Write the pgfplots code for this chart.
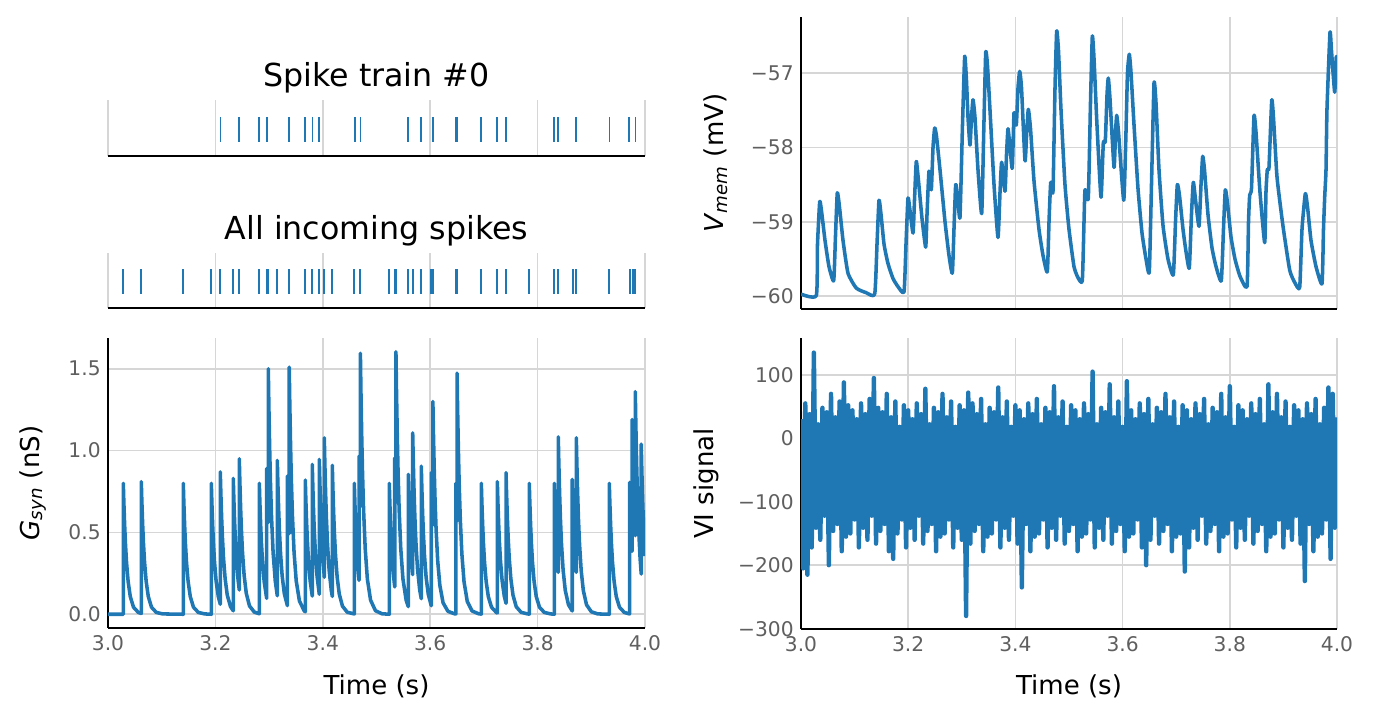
\documentclass[border=0pt]{standalone}
\usepackage{fontspec}
\setmainfont{DejaVu Sans}
\usepackage{pgfplots}
\pgfplotsset{compat=1.18}
\definecolor{mplblue}{RGB}{31,119,180}
\definecolor{gridgray}{RGB}{214,214,214}
\definecolor{tickgray}{RGB}{95,95,95}
\pgfplotsset{
  base/.style={
    scale only axis, xmin=3, xmax=4,
    major tick length=0pt, tick style={draw=none},
    grid style={gridgray, line width=0.8pt},
    xtick={3,3.2,3.4,3.6,3.8,4},
    tick label style={font=\fontsize{9.7}{11}\selectfont, text=tickgray},
    label style={font=\fontsize{12.5}{14}\selectfont},
    title style={font=\fontsize{15.2}{17}\selectfont},
  },
  raster/.style={base, axis x line=bottom, axis y line=none, xmajorgrids,
    axis line style={-, line width=1pt, black},
    ymin=0, ymax=1, xticklabels={}, width=257.76pt,
    title style={at={(axis description cs:0.5,1)}, anchor=center, yshift=4.8pt}},
  trace/.style={base, axis lines*=left, xmajorgrids, ymajorgrids,
    axis line style={-, line width=1pt, black}},
  spk/.style={only marks, mark=|, mark size=6pt, mplblue, mark options={line width=0.8pt}},
  crv/.style={mplblue, line width=1.7pt, line join=round},
}
\begin{document}
\begin{tikzpicture}
\useasboundingbox (0,0) rectangle (659.52pt,345.12pt);
% Spike train #0
\begin{axis}[raster, at={(51.84pt,270.24pt)}, anchor=south west, height=26.88pt, title={Spike train \#0}]
\addplot[spk] coordinates {(3.2098,0.475)(3.2443,0.475)(3.2816,0.475)(3.2965,0.475)(3.3374,0.475)(3.3672,0.475)(3.3810,0.475)(3.3933,0.475)(3.4594,0.475)(3.4705,0.475)(3.5592,0.475)(3.5829,0.475)(3.6058,0.475)(3.6480,0.475)(3.6498,0.475)(3.6952,0.475)(3.7250,0.475)(3.7412,0.475)(3.8311,0.475)(3.8386,0.475)(3.8721,0.475)(3.9336,0.475)(3.9708,0.475)(3.9820,0.475)};
\end{axis}
% All incoming spikes
\begin{axis}[raster, at={(51.84pt,197.28pt)}, anchor=south west, height=26.4pt, title={All incoming spikes}]
\addplot[spk] coordinates {(3.0285,0.475)(3.0620,0.475)(3.1402,0.475)(3.1924,0.475)(3.2091,0.475)(3.2333,0.475)(3.2445,0.475)(3.2818,0.475)(3.2965,0.475)(3.2983,0.475)(3.3153,0.475)(3.3362,0.475)(3.3380,0.475)(3.3674,0.475)(3.3804,0.475)(3.3935,0.475)(3.4028,0.475)(3.4177,0.475)(3.4587,0.475)(3.4690,0.475)(3.4703,0.475)(3.5238,0.475)(3.5348,0.475)(3.5366,0.475)(3.5592,0.475)(3.5674,0.475)(3.5834,0.475)(3.6020,0.475)(3.6047,0.475)(3.6484,0.475)(3.6502,0.475)(3.6952,0.475)(3.7250,0.475)(3.7412,0.475)(3.7845,0.475)(3.8311,0.475)(3.8385,0.475)(3.8654,0.475)(3.8721,0.475)(3.9335,0.475)(3.9715,0.475)(3.9771,0.475)(3.9819,0.475)};
\end{axis}
% G_syn
\begin{axis}[trace, at={(51.84pt,43.68pt)}, anchor=south west, width=257.76pt, height=139.2pt,
  ymin=-0.084, ymax=1.688, ytick={0,0.5,1,1.5}, yticklabels={0.0,0.5,1.0,1.5},
  xticklabels={3.0,3.2,3.4,3.6,3.8,4.0},
  xlabel={Time (s)}, ylabel={\textit{G}\textsubscript{\textit{syn}} (nS)},
  xlabel style={at={(axis description cs:0.5,-0.2)}, anchor=center},
  ylabel style={at={(axis description cs:-0.1397,0.5)}, anchor=center}]
\addplot[crv] coordinates {
(3.0000,0)(3.0285,0)(3.0285,0.80)(3.0295,0.686)(3.0310,0.545)(3.0325,0.432)(3.0345,0.318)(3.0375,0.200)(3.0415,0.108)(3.0475,0.043)(3.0565,0.011)(3.0620,0.005)
(3.0620,0.81)(3.0630,0.694)(3.0645,0.552)(3.0660,0.437)(3.0680,0.322)(3.0710,0.203)(3.0750,0.109)(3.0810,0.043)(3.0900,0.011)(3.1020,0.002)(3.1402,0)
(3.1402,0.80)(3.1412,0.686)(3.1427,0.545)(3.1442,0.432)(3.1462,0.318)(3.1492,0.200)(3.1532,0.108)(3.1592,0.043)(3.1682,0.011)(3.1802,0.002)(3.1924,0)
(3.1924,0.80)(3.1934,0.686)(3.1949,0.545)(3.1964,0.432)(3.1984,0.318)(3.2014,0.200)(3.2054,0.108)(3.2091,0.061)
(3.2091,0.87)(3.2101,0.746)(3.2116,0.592)(3.2131,0.470)(3.2151,0.345)(3.2181,0.218)(3.2221,0.117)(3.2281,0.047)(3.2333,0.021)
(3.2333,0.83)(3.2343,0.711)(3.2358,0.565)(3.2373,0.448)(3.2393,0.330)(3.2423,0.208)(3.2445,0.148)
(3.2445,0.95)(3.2455,0.814)(3.2470,0.647)(3.2485,0.513)(3.2505,0.377)(3.2535,0.238)(3.2575,0.128)(3.2635,0.051)(3.2725,0.013)(3.2818,0.003)
(3.2818,0.80)(3.2828,0.686)(3.2843,0.545)(3.2858,0.432)(3.2878,0.318)(3.2908,0.200)(3.2955,0.097)
(3.2955,0.89)(3.2965,0.763)(3.2985,0.561)
(3.2985,1.50)(3.2995,1.286)(3.3010,1.022)(3.3025,0.810)(3.3045,0.596)(3.3075,0.375)(3.3115,0.203)(3.3153,0.113)
(3.3153,0.94)(3.3163,0.806)(3.3178,0.640)(3.3193,0.508)(3.3213,0.373)(3.3243,0.235)(3.3283,0.127)(3.3340,0.053)
(3.3340,0.845)(3.3350,0.724)(3.3375,0.493)
(3.3375,1.51)(3.3385,1.294)(3.3400,1.028)(3.3415,0.815)(3.3435,0.599)(3.3465,0.378)(3.3505,0.204)(3.3565,0.081)(3.3655,0.020)(3.3674,0.015)
(3.3674,0.82)(3.3684,0.703)(3.3699,0.558)(3.3714,0.443)(3.3734,0.326)(3.3764,0.205)(3.3804,0.111)
(3.3804,0.915)(3.3814,0.784)(3.3829,0.623)(3.3844,0.494)(3.3864,0.363)(3.3894,0.229)(3.3935,0.122)
(3.3935,0.946)(3.3945,0.811)(3.3960,0.644)(3.3975,0.511)(3.3995,0.376)(3.4028,0.226)
(3.4028,1.078)(3.4038,0.924)(3.4053,0.734)(3.4068,0.582)(3.4088,0.428)(3.4118,0.270)(3.4158,0.146)(3.4177,0.109)
(3.4177,0.91)(3.4187,0.780)(3.4202,0.620)(3.4217,0.491)(3.4237,0.361)(3.4267,0.228)(3.4307,0.123)(3.4367,0.049)(3.4457,0.012)(3.4587,0.002)
(3.4587,0.80)(3.4597,0.686)(3.4612,0.545)(3.4627,0.432)(3.4647,0.318)(3.4675,0.207)
(3.4675,0.966)(3.4685,0.828)(3.4700,0.658)
(3.4700,1.594)(3.4710,1.366)(3.4725,1.086)(3.4740,0.861)(3.4760,0.633)(3.4790,0.399)(3.4830,0.215)(3.4890,0.086)(3.4980,0.022)(3.5100,0.003)(3.5238,0)
(3.5238,0.80)(3.5248,0.686)(3.5263,0.545)(3.5278,0.432)(3.5298,0.318)(3.5328,0.200)(3.5340,0.167)
(3.5340,0.956)(3.5350,0.819)(3.5362,0.682)
(3.5362,1.604)(3.5372,1.375)(3.5387,1.092)(3.5402,0.866)(3.5422,0.637)(3.5452,0.401)(3.5492,0.217)(3.5552,0.086)(3.5592,0.047)
(3.5592,0.855)(3.5602,0.733)(3.5617,0.582)(3.5632,0.462)(3.5652,0.339)(3.5674,0.242)
(3.5674,1.108)(3.5684,0.950)(3.5699,0.755)(3.5714,0.598)(3.5734,0.440)(3.5764,0.277)(3.5804,0.150)(3.5834,0.095)
(3.5834,0.905)(3.5844,0.776)(3.5859,0.616)(3.5874,0.489)(3.5894,0.359)(3.5924,0.226)(3.5964,0.122)(3.6020,0.052)
(3.6020,0.865)(3.6030,0.741)(3.6050,0.545)
(3.6050,1.30)(3.6060,1.114)(3.6075,0.885)(3.6090,0.702)(3.6110,0.516)(3.6140,0.325)(3.6180,0.176)(3.6240,0.070)(3.6330,0.018)(3.6450,0.003)(3.6478,0.002)
(3.6478,0.80)(3.6488,0.686)(3.6500,0.570)
(3.6500,1.473)(3.6510,1.262)(3.6525,1.003)(3.6540,0.795)(3.6560,0.585)(3.6590,0.368)(3.6630,0.199)(3.6690,0.079)(3.6780,0.020)(3.6900,0.003)(3.6952,0.001)
(3.6952,0.80)(3.6962,0.686)(3.6977,0.545)(3.6992,0.432)(3.7012,0.318)(3.7042,0.200)(3.7082,0.108)(3.7142,0.043)(3.7232,0.011)(3.7250,0.008)
(3.7250,0.81)(3.7260,0.694)(3.7275,0.552)(3.7290,0.437)(3.7310,0.322)(3.7340,0.203)(3.7380,0.109)(3.7412,0.067)
(3.7412,0.865)(3.7422,0.741)(3.7437,0.589)(3.7452,0.467)(3.7472,0.343)(3.7502,0.216)(3.7542,0.117)(3.7602,0.046)(3.7692,0.012)(3.7812,0.002)(3.7845,0.001)
(3.7845,0.80)(3.7855,0.686)(3.7870,0.545)(3.7885,0.432)(3.7905,0.318)(3.7935,0.200)(3.7975,0.108)(3.8035,0.043)(3.8125,0.011)(3.8245,0.002)(3.8311,0)
(3.8311,0.80)(3.8321,0.686)(3.8336,0.545)(3.8351,0.432)(3.8371,0.318)(3.8385,0.256)
(3.8385,1.084)(3.8395,0.929)(3.8410,0.738)(3.8425,0.585)(3.8445,0.430)(3.8475,0.271)(3.8515,0.146)(3.8575,0.058)(3.8645,0.020)
(3.8645,0.824)(3.8655,0.706)(3.8670,0.561)(3.8685,0.445)(3.8705,0.327)(3.8721,0.256)
(3.8721,1.078)(3.8731,0.924)(3.8746,0.734)(3.8761,0.582)(3.8781,0.428)(3.8811,0.270)(3.8851,0.146)(3.8911,0.058)(3.9001,0.015)(3.9121,0.002)(3.9335,0)
(3.9335,0.80)(3.9345,0.686)(3.9360,0.545)(3.9375,0.432)(3.9395,0.318)(3.9425,0.200)(3.9465,0.108)(3.9525,0.043)(3.9615,0.011)(3.9712,0.002)
(3.9712,0.805)(3.9722,0.690)(3.9737,0.548)(3.9752,0.435)(3.9760,0.385)
(3.9760,1.19)(3.9770,1.020)(3.9785,0.810)(3.9800,0.643)(3.9819,0.480)
(3.9819,1.36)(3.9829,1.166)(3.9844,0.926)(3.9859,0.734)(3.9879,0.540)(3.9909,0.340)(3.9930,0.246)
(3.9930,1.04)(3.9940,0.891)(3.9955,0.708)(3.9970,0.562)(3.9990,0.413)(4.0000,0.355)
};
\end{axis}
% V_mem
\begin{axis}[trace, at={(384.48pt,196.8pt)}, anchor=south west, width=257.28pt, height=140.16pt,
  ymin=-60.17, ymax=-56.25, ytick={-60,-59,-58,-57}, yticklabels={−60,−59,−58,−57},
  xticklabels={},
  ylabel={\textit{V}\textsubscript{\textit{mem}} (mV)},
  ylabel style={at={(axis description cs:-0.1586,0.5)}, anchor=center}]
\addplot[crv, smooth, tension=0.3] coordinates {
(3.0000,-59.97)(3.0285,-59.99)(3.0308,-59.3)(3.0349,-58.73)(3.0382,-58.85)(3.0448,-59.25)(3.0522,-59.6)(3.0610,-59.79)
(3.0643,-59.2)(3.0677,-58.61)(3.0718,-58.8)(3.0784,-59.25)(3.0877,-59.69)(3.1032,-59.89)(3.1213,-59.95)(3.1375,-59.97)
(3.1418,-59.3)(3.1455,-58.71)(3.1493,-58.9)(3.1549,-59.3)(3.1623,-59.56)(3.1716,-59.76)(3.1810,-59.87)(3.1922,-59.94)
(3.1959,-59.3)(3.1996,-58.68)(3.2034,-58.85)(3.2090,-59.15)(3.2118,-58.7)(3.2151,-58.19)(3.2192,-58.45)(3.2257,-58.95)(3.2326,-59.34)
(3.2351,-58.9)(3.2388,-58.32)(3.2431,-58.57)(3.2463,-58.0)(3.2494,-57.74)(3.2528,-57.85)(3.2593,-58.3)(3.2687,-59.0)(3.2761,-59.45)(3.2823,-59.69)
(3.2854,-59.1)(3.2886,-58.50)(3.2920,-58.65)(3.2966,-58.94)(3.3013,-57.7)(3.3054,-56.78)(3.3087,-57.1)(3.3116,-57.6)(3.3153,-57.97)
(3.3181,-57.6)(3.3209,-57.36)(3.3246,-57.6)(3.3302,-58.3)(3.3371,-58.89)(3.3409,-57.8)(3.3446,-56.73)(3.3479,-56.9)(3.3526,-57.5)(3.3601,-58.5)(3.3675,-59.21)
(3.3713,-58.6)(3.3744,-58.20)(3.3806,-58.59)(3.3834,-58.1)(3.3862,-57.75)(3.3899,-58.0)(3.3942,-58.28)(3.3974,-57.54)(3.4017,-57.70)(3.4049,-57.2)(3.4080,-56.98)
(3.4114,-57.2)(3.4179,-58.18)(3.4211,-57.8)(3.4241,-57.49)(3.4282,-57.75)(3.4347,-58.45)(3.4440,-59.1)(3.4515,-59.45)(3.4595,-59.67)
(3.4627,-59.0)(3.4659,-58.47)(3.4701,-58.59)(3.4739,-57.2)(3.4770,-56.44)(3.4804,-56.7)(3.4851,-57.5)(3.4925,-58.5)(3.5000,-59.1)(3.5093,-59.60)(3.5168,-59.75)(3.5248,-59.79)
(3.5280,-59.0)(3.5299,-58.57)(3.5360,-58.68)(3.5401,-57.4)(3.5435,-56.51)(3.5466,-56.8)(3.5522,-57.7)(3.5597,-58.67)(3.5640,-57.94)(3.5677,-57.92)
(3.5709,-57.3)(3.5733,-57.07)(3.5765,-57.35)(3.5840,-58.27)(3.5868,-57.8)(3.5890,-57.57)(3.5924,-57.8)(3.6021,-58.71)(3.6063,-57.8)(3.6091,-57.0)(3.6125,-56.75)
(3.6157,-57.0)(3.6213,-57.7)(3.6287,-58.55)(3.6362,-59.15)(3.6437,-59.5)(3.6498,-59.67)(3.6539,-58.5)(3.6586,-57.14)(3.6623,-57.4)(3.6679,-58.3)(3.6754,-59.05)(3.6847,-59.5)(3.6946,-59.71)
(3.6987,-59.0)(3.7021,-58.50)(3.7062,-58.65)(3.7127,-59.1)(3.7183,-59.4)(3.7244,-59.62)(3.7285,-58.9)(3.7319,-58.47)(3.7360,-58.7)(3.7425,-59.06)(3.7463,-58.5)(3.7494,-58.12)
(3.7528,-58.3)(3.7593,-58.9)(3.7668,-59.35)(3.7743,-59.6)(3.7841,-59.79)(3.7882,-59.1)(3.7916,-58.57)(3.7957,-58.75)(3.8022,-59.2)(3.8097,-59.5)(3.8190,-59.73)(3.8321,-59.87)
(3.8349,-59.0)(3.8371,-58.64)(3.8405,-58.55)(3.8451,-57.58)(3.8489,-57.8)(3.8563,-58.6)(3.8651,-59.28)(3.8675,-58.6)(3.8700,-58.30)(3.8731,-58.27)(3.8782,-57.37)
(3.8815,-57.6)(3.8881,-58.4)(3.8993,-59.06)(3.9118,-59.65)(3.9216,-59.82)(3.9304,-59.88)(3.9347,-59.1)(3.9409,-58.62)(3.9450,-58.8)(3.9515,-59.25)(3.9608,-59.6)(3.9720,-59.83)
(3.9748,-59.1)(3.9771,-58.66)(3.9795,-58.3)(3.9813,-57.49)(3.9869,-56.46)(3.9897,-56.7)(3.9957,-57.26)(3.9987,-56.78)(4.0000,-56.93)
};
\end{axis}
% VI signal
\begin{axis}[trace, at={(384.48pt,43.2pt)}, anchor=south west, width=257.28pt, height=139.68pt,
  ymin=-300.5, ymax=158, ytick={-300,-200,-100,0,100}, yticklabels={−300,−200,−100,0,100},
  xticklabels={3.0,3.2,3.4,3.6,3.8,4.0},
  xlabel={Time (s)}, ylabel={VI signal},
  xlabel style={at={(axis description cs:0.5,-0.196)}, anchor=center},
  ylabel style={at={(axis description cs:-0.177,0.5)}, anchor=center}]
\addplot[mplblue, line width=2.1pt, line join=round] coordinates {
(3.000,30)(3.004,-205)(3.008,55)(3.012,-215)(3.016,38)(3.020,-172)(3.024,135)(3.028,-141)(3.032,22)(3.036,-160)
(3.040,48)(3.044,-122)(3.048,41)(3.052,-200)(3.056,70)(3.060,-146)(3.064,33)(3.068,-135)(3.072,58)(3.076,-178)
(3.080,88)(3.084,-155)(3.088,52)(3.092,-150)(3.096,44)(3.100,-128)(3.104,30)(3.108,-172)(3.112,55)(3.116,-141)
(3.120,38)(3.124,-160)(3.128,62)(3.132,-122)(3.136,95)(3.140,-166)(3.144,48)(3.148,-146)(3.152,41)(3.156,-135)
(3.160,70)(3.164,-178)(3.168,33)(3.172,-190)(3.176,58)(3.180,-150)(3.184,18)(3.188,-128)(3.192,52)(3.196,-172)
(3.200,44)(3.204,-141)(3.208,30)(3.212,-160)(3.216,55)(3.220,-122)(3.224,38)(3.228,-166)(3.232,78)(3.236,-146)
(3.240,22)(3.244,-135)(3.248,48)(3.252,-178)(3.256,41)(3.260,-155)(3.264,70)(3.268,-150)(3.272,33)(3.276,-128)
(3.280,58)(3.284,-172)(3.288,18)(3.292,-141)(3.296,52)(3.300,-160)(3.304,44)(3.308,-280)(3.312,72)(3.316,-166)
(3.320,55)(3.324,-146)(3.328,38)(3.332,-135)(3.336,62)(3.340,-178)(3.344,22)(3.348,-155)(3.352,48)(3.356,-150)
(3.360,41)(3.364,-128)(3.368,80)(3.372,-172)(3.376,33)(3.380,-141)(3.384,58)(3.388,-160)(3.392,18)(3.396,-122)
(3.400,52)(3.404,-166)(3.408,44)(3.412,-235)(3.416,30)(3.420,-135)(3.424,55)(3.428,-178)(3.432,38)(3.436,-155)
(3.440,62)(3.444,-150)(3.448,22)(3.452,-128)(3.456,48)(3.460,-172)(3.464,41)(3.468,-141)(3.472,82)(3.476,-160)
(3.480,33)(3.484,-122)(3.488,58)(3.492,-166)(3.496,18)(3.500,-146)(3.504,52)(3.508,-135)(3.512,44)(3.516,-178)
(3.520,30)(3.524,-155)(3.528,55)(3.532,-150)(3.536,38)(3.540,-128)(3.544,105)(3.548,-172)(3.552,22)(3.556,-141)
(3.560,48)(3.564,-160)(3.568,41)(3.572,-122)(3.576,85)(3.580,-166)(3.584,33)(3.588,-146)(3.592,58)(3.596,-135)
(3.600,18)(3.604,-178)(3.608,90)(3.612,-155)(3.616,44)(3.620,-150)(3.624,30)(3.628,-128)(3.632,55)(3.636,-172)
(3.640,38)(3.644,-200)(3.648,62)(3.652,-160)(3.656,22)(3.660,-122)(3.664,48)(3.668,-166)(3.672,41)(3.676,-146)
(3.680,70)(3.684,-135)(3.688,33)(3.692,-178)(3.696,58)(3.700,-155)(3.704,18)(3.708,-150)(3.712,52)(3.716,-210)
(3.720,44)(3.724,-172)(3.728,30)(3.732,-141)(3.736,55)(3.740,-160)(3.744,38)(3.748,-122)(3.752,62)(3.756,-166)
(3.760,22)(3.764,-146)(3.768,48)(3.772,-135)(3.776,41)(3.780,-178)(3.784,70)(3.788,-155)(3.792,33)(3.796,-150)
(3.800,82)(3.804,-128)(3.808,18)(3.812,-172)(3.816,52)(3.820,-141)(3.824,44)(3.828,-160)(3.832,30)(3.836,-122)
(3.840,55)(3.844,-166)(3.848,38)(3.852,-146)(3.856,62)(3.860,-135)(3.864,22)(3.868,-178)(3.872,85)(3.876,-155)
(3.880,41)(3.884,-150)(3.888,70)(3.892,-128)(3.896,33)(3.900,-172)(3.904,58)(3.908,-141)(3.912,18)(3.916,-160)
(3.920,52)(3.924,-122)(3.928,44)(3.932,-166)(3.936,30)(3.940,-225)(3.944,55)(3.948,-135)(3.952,38)(3.956,-178)
(3.960,62)(3.964,-155)(3.968,22)(3.972,-150)(3.976,48)(3.980,-128)(3.984,80)(3.988,-190)(3.992,70)(3.996,-141)
(4.000,33)
};
\end{axis}
\end{tikzpicture}
\end{document}
